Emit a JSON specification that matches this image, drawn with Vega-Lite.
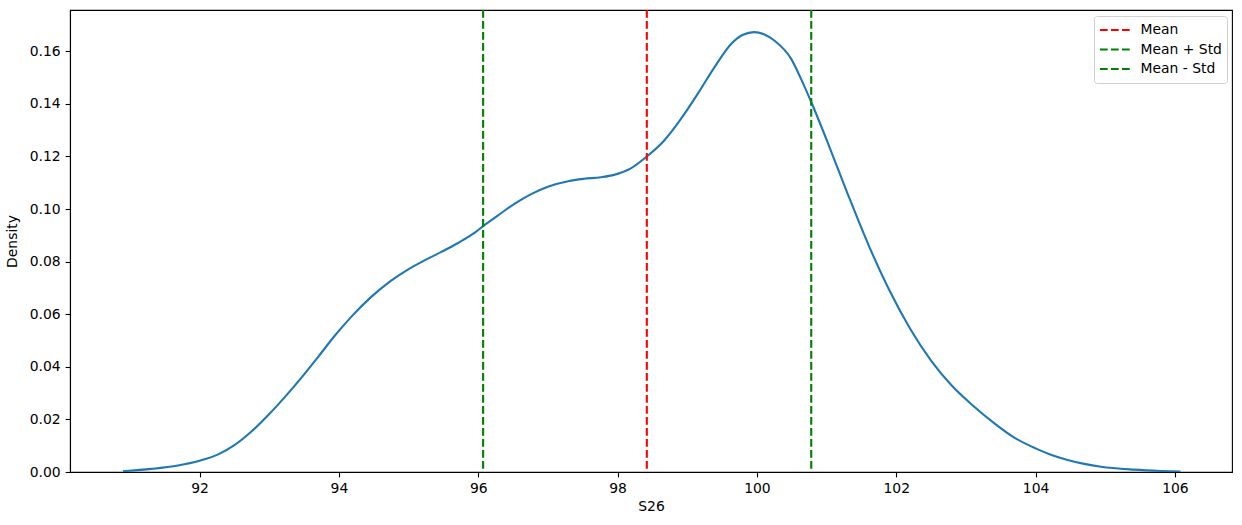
{
  "$schema": "https://vega.github.io/schema/vega-lite/v6.json",
  "width": 1162,
  "height": 462,
  "autosize": "none",
  "padding": {"left": 70, "top": 10, "right": 10, "bottom": 53},
  "background": "white",
  "datasets": {
    "kde": [
      {"x": 90.90, "density": 0.0003},
      {"x": 91.31, "density": 0.0012},
      {"x": 91.69, "density": 0.0025},
      {"x": 92.00, "density": 0.0043},
      {"x": 92.26, "density": 0.0066},
      {"x": 92.50, "density": 0.0102},
      {"x": 92.74, "density": 0.0153},
      {"x": 92.98, "density": 0.0215},
      {"x": 93.22, "density": 0.0284},
      {"x": 93.46, "density": 0.0358},
      {"x": 93.70, "density": 0.0437},
      {"x": 93.94, "density": 0.0518},
      {"x": 94.18, "density": 0.0591},
      {"x": 94.46, "density": 0.0665},
      {"x": 94.75, "density": 0.0728},
      {"x": 94.99, "density": 0.0770},
      {"x": 95.23, "density": 0.0805},
      {"x": 95.47, "density": 0.0837},
      {"x": 95.71, "density": 0.0871},
      {"x": 95.95, "density": 0.0910},
      {"x": 96.07, "density": 0.0935},
      {"x": 96.28, "density": 0.0975},
      {"x": 96.52, "density": 0.1020},
      {"x": 96.76, "density": 0.1057},
      {"x": 97.00, "density": 0.1085},
      {"x": 97.29, "density": 0.1106},
      {"x": 97.52, "density": 0.1115},
      {"x": 97.76, "density": 0.1121},
      {"x": 97.95, "density": 0.1130},
      {"x": 98.19, "density": 0.1155},
      {"x": 98.42, "density": 0.1200},
      {"x": 98.67, "density": 0.1261},
      {"x": 98.91, "density": 0.1343},
      {"x": 99.15, "density": 0.1438},
      {"x": 99.39, "density": 0.1539},
      {"x": 99.63, "density": 0.1628},
      {"x": 99.80, "density": 0.1663},
      {"x": 99.96, "density": 0.1673},
      {"x": 100.10, "density": 0.1665},
      {"x": 100.25, "density": 0.1641},
      {"x": 100.49, "density": 0.1572},
      {"x": 100.63, "density": 0.1497},
      {"x": 100.78, "density": 0.1407},
      {"x": 101.00, "density": 0.1264},
      {"x": 101.30, "density": 0.1060},
      {"x": 101.60, "density": 0.0865},
      {"x": 101.90, "density": 0.0692},
      {"x": 102.20, "density": 0.0545},
      {"x": 102.50, "density": 0.0424},
      {"x": 102.80, "density": 0.0328},
      {"x": 103.10, "density": 0.0253},
      {"x": 103.40, "density": 0.0187},
      {"x": 103.70, "density": 0.0130},
      {"x": 104.00, "density": 0.0090},
      {"x": 104.22, "density": 0.0066},
      {"x": 104.46, "density": 0.0046},
      {"x": 104.70, "density": 0.0031},
      {"x": 104.94, "density": 0.0020},
      {"x": 105.41, "density": 0.0009},
      {"x": 105.80, "density": 0.0004},
      {"x": 106.08, "density": 0.0002}
    ],
    "stats": [
      {"label": "Mean", "value": 98.42},
      {"label": "Mean + Std", "value": 100.78},
      {"label": "Mean - Std", "value": 96.07}
    ]
  },
  "layer": [
    {
      "data": {"name": "kde"},
      "mark": {"type": "line", "color": "#1f77b4", "strokeWidth": 2.1, "interpolate": "monotone", "clip": true},
      "encoding": {
        "x": {
          "field": "x", "type": "quantitative",
          "scale": {"domain": [90.14, 106.82], "nice": false, "zero": false},
          "axis": {"title": "S26", "values": [92, 94, 96, 98, 100, 102, 104, 106], "format": "d"}
        },
        "y": {
          "field": "density", "type": "quantitative",
          "scale": {"domain": [0, 0.1757], "nice": false, "zero": true},
          "axis": {"title": "Density", "values": [0, 0.02, 0.04, 0.06, 0.08, 0.1, 0.12, 0.14, 0.16], "format": ".2f"}
        }
      }
    },
    {
      "data": {"name": "stats"},
      "mark": {"type": "rule", "strokeWidth": 2.1, "strokeDash": [7.7, 3.3]},
      "encoding": {
        "x": {"field": "value", "type": "quantitative"},
        "color": {
          "field": "label", "type": "nominal",
          "scale": {"domain": ["Mean", "Mean + Std", "Mean - Std"], "range": ["#ff0000", "#008000", "#008000"]},
          "legend": {
            "title": null,
            "orient": "none",
            "legendX": 1024,
            "legendY": 6,
            "symbolType": "stroke",
            "symbolDash": [7.7, 3.3],
            "symbolStrokeWidth": 2.1,
            "symbolSize": 900,
            "clipHeight": 19,
            "labelFont": "DejaVu Sans",
            "labelFontSize": 13.9,
            "labelColor": "#000000",
            "labelOffset": 9,
            "strokeColor": "#d0d0d0",
            "fillColor": "white",
            "cornerRadius": 3,
            "padding": 4.5,
            "rowPadding": 0.5
          }
        }
      }
    }
  ],
  "config": {
    "view": {"stroke": "#000000", "strokeWidth": 1.1},
    "axis": {
      "grid": false,
      "domainColor": "#000000",
      "domainWidth": 1.1,
      "tickColor": "#000000",
      "tickWidth": 1.1,
      "tickSize": 4.9,
      "labelPadding": 4.9,
      "labelFont": "DejaVu Sans",
      "labelFontSize": 13.9,
      "labelColor": "#000000",
      "titleFont": "DejaVu Sans",
      "titleFontSize": 13.9,
      "titleFontWeight": "normal",
      "titleColor": "#000000",
      "labelFlush": false,
      "labelOverlap": false
    },
    "axisX": {"titlePadding": 4},
    "axisY": {"titlePadding": 10}
  }
}
